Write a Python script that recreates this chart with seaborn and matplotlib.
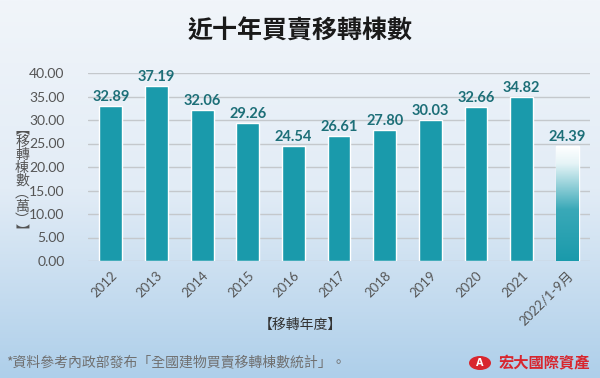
import matplotlib
matplotlib.use("Agg")
import matplotlib.pyplot as plt
import numpy as np
import pandas as pd
import seaborn as sns
from matplotlib.colors import LinearSegmentedColormap
from matplotlib.patches import Ellipse

years = ["2012", "2013", "2014", "2015", "2016", "2017", "2018", "2019", "2020", "2021", "2022/1-9月"]
values = [32.89, 37.19, 32.06, 29.26, 24.54, 26.61, 27.80, 30.03, 32.66, 34.82, 24.39]
yticks = [0, 5, 10, 15, 20, 25, 30, 35, 40]

sns.set_theme(style="white")
plt.rcParams['font.family'] = ['Noto Sans CJK TC', 'DejaVu Sans']

fig = plt.figure(figsize=(6, 3.78), dpi=100)

# background gradient
bg = fig.add_axes([0, 0, 1, 1], zorder=-10)
grad = np.linspace(0, 1, 256).reshape(-1, 1)
bg_cmap = LinearSegmentedColormap.from_list("bg", ["#f1f5fa", "#e2ecf6", "#aecfea"])
bg.imshow(grad, aspect="auto", cmap=bg_cmap, extent=[0, 1, 0, 1], origin="upper")
bg.set_axis_off()

ax = fig.add_axes([88/600, 1-261/378, 502/600, (261-73)/378])
ax.patch.set_alpha(0)
df = pd.DataFrame({"year": years, "value": values})
teal = "#1a9aab"
sns.barplot(data=df, x="year", y="value", color=teal, saturation=1, width=0.5, ax=ax, zorder=3)

# gradient on last bar
last = ax.patches[-1]
x0, y0 = last.get_x(), last.get_y()
w, h = last.get_width(), last.get_height()
gcmap = LinearSegmentedColormap.from_list("g", [(0, "#ffffff"), (0.15, "#e6f4f7"), (0.55, "#3aa9b8"), (1, teal)])
im = ax.imshow(np.linspace(0, 1, 256).reshape(-1, 1), aspect="auto", cmap=gcmap,
               extent=[x0, x0 + w, y0, y0 + h], origin="upper", zorder=4)
im.set_clip_path(last)
last.set_facecolor("none")

ax.set_xlim(-0.5, 10.5)
ax.set_ylim(0, 40)
ax.set_yticks(yticks)
ax.set_yticklabels([f"{v:.2f}" for v in yticks], color="#555555", fontsize=10, family=["Lato", "DejaVu Sans"])
ax.set_xticks(range(len(years)))
ax.set_xticklabels(years, rotation=45, ha="right", rotation_mode="anchor", color="#555555", fontsize=9.5,
                   family=["Lato", "Noto Sans CJK TC"])
ax.tick_params(axis="x", length=0, pad=6)
ax.tick_params(axis="y", length=0, pad=17)
ax.yaxis.grid(True, color="#c4c8cc", linewidth=1, zorder=0)
ax.set_axisbelow(True)
for s in ax.spines.values():
    s.set_visible(False)
ax.set_xlabel("")
ax.set_ylabel("")

for i, v in enumerate(values):
    ax.text(i, v + 0.45, f"{v:.2f}", ha="center", va="bottom", fontsize=10.5, fontweight="bold",
            color="#1d6f78", family="Lato", zorder=5)

fig.text(0.5, 1-32/378, "近十年買賣移轉棟數", ha="center", va="center", fontsize=18, fontweight="bold", color="#1a1a1a")
fig.text(0.5, 1-325/378, "【移轉年度】", ha="center", va="center", fontsize=10, color="#333333")

# vertical y-axis label (vertical presentation forms)
fig.text(22/600, 1-181/378, "︻\n移\n轉\n棟\n數\n︵\n萬\n︶\n︼", ha="center", va="center",
         fontsize=10, color="#555555", linespacing=0.9)

fig.text(6/600, 1-362/378, "*資料參考內政部發布「全國建物買賣移轉棟數統計」。", ha="left", va="center",
         fontsize=10, color="#707070")
fig.patches.append(Ellipse((480/600, 1-363/378), 22/600, 14/378, transform=fig.transFigure,
                           facecolor="#d8262e", edgecolor="none"))
fig.text(480/600, 1-363/378, "A", ha="center", va="center", fontsize=7, fontweight="bold", color="white",
         family="DejaVu Sans")
fig.text(590/600, 1-363/378, "宏大國際資產", ha="right", va="center", fontsize=11, fontweight="bold", color="#d8262e")

fig.savefig("out.png", dpi=100)
